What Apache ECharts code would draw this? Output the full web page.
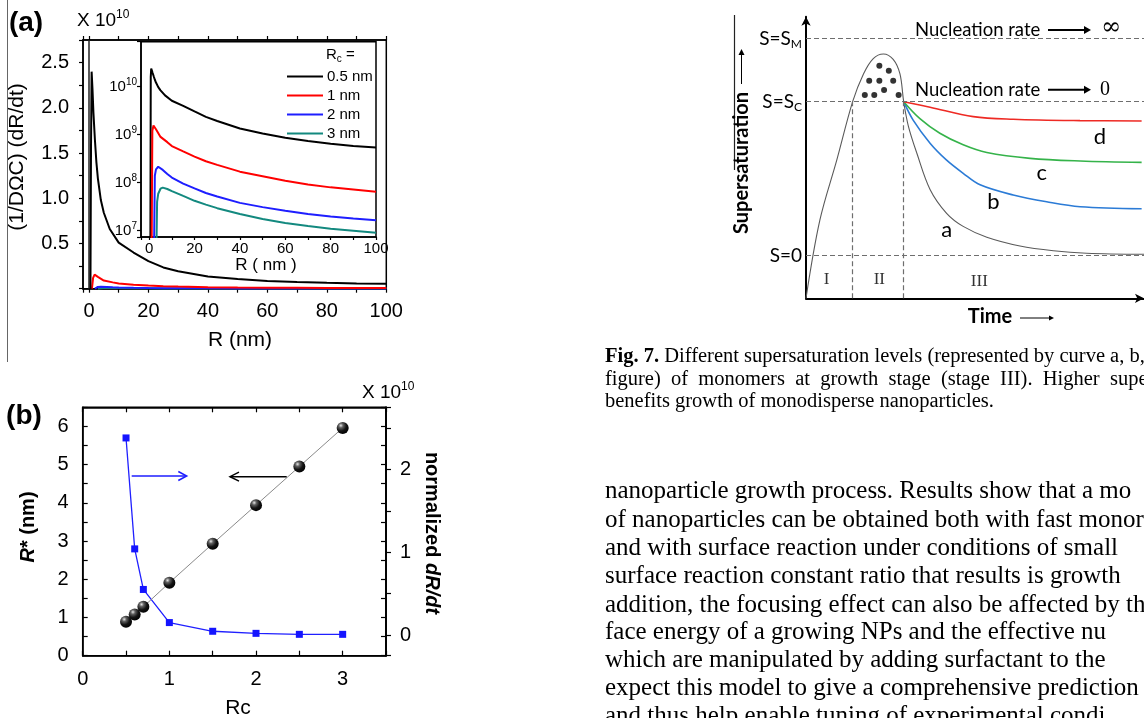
<!DOCTYPE html>
<html>
<head>
<meta charset="utf-8">
<script src="https://cdn.jsdelivr.net/npm/echarts@6/dist/echarts.min.js"></script>
<style>
  html, body { margin: 0; padding: 0; background: #fff; }
  #chart { width: 1144px; height: 718px; }
</style>
</head>
<body>
<div id="chart"></div>
<script>
// ---- panel (a): growth rate vs radius, one curve per Rc ----
const rcNames = ['0.5 nm', '1 nm', '2 nm', '3 nm']
const rcColors = ['#000000', '#ff0000', '#1e1eff', '#13897f']

const rBlack = [0.5, 0.7, 0.9, 1.2, 1.5, 2, 2.5, 3, 4, 5, 7, 10, 15, 20, 25, 30, 40, 50, 60, 70, 80, 90, 100]
const vBlack = [1e6, 1.6e10, 2.4e10, 2.2e10, 1.95e10, 1.65e10, 1.4e10, 1.22e10, 9.8e9, 8.4e9, 6.6e9, 5.1e9, 4.0e9, 3.05e9, 2.35e9, 1.93e9, 1.35e9, 1.06e9, 8.6e8, 7.4e8, 6.5e8, 5.8e8, 5.4e8]

const rRed = [1, 1.4, 1.9, 3, 5, 8, 10, 15, 20, 25, 30, 40, 50, 60, 70, 80, 90, 100]
const vRed = [1e6, 1.2e9, 1.55e9, 1.3e9, 9.0e8, 7.0e8, 5.8e8, 4.5e8, 3.5e8, 2.8e8, 2.35e8, 1.7e8, 1.37e8, 1.1e8, 9.2e7, 8.0e7, 7.2e7, 6.5e7]

const rBlue = [2, 2.5, 3, 4, 6, 8, 10, 15, 20, 25, 30, 40, 50, 60, 70, 80, 90, 100]
const vBlue = [1e6, 1.4e8, 1.9e8, 2.15e8, 1.85e8, 1.52e8, 1.28e8, 9.6e7, 7.6e7, 6.1e7, 5.15e7, 3.8e7, 3.1e7, 2.6e7, 2.22e7, 1.98e7, 1.8e7, 1.66e7]

const rTeal = [3, 3.5, 4, 5, 6, 8, 10, 15, 20, 25, 30, 40, 50, 60, 70, 80, 90, 100]
const vTeal = [1e6, 4.0e7, 5.9e7, 7.5e7, 7.9e7, 7.4e7, 6.7e7, 5.3e7, 4.2e7, 3.5e7, 2.95e7, 2.24e7, 1.75e7, 1.45e7, 1.25e7, 1.1e7, 1.0e7, 9.1e6]

// ---- panel (b): R* and normalized dR/dt vs Rc ----
const rcB = [0.5, 0.6, 0.7, 1, 1.5, 2, 2.5, 3]
const rStar = [0.89, 1.08, 1.28, 1.91, 2.93, 3.94, 4.95, 5.96]
const normRate = [2.38, 1.04, 0.55, 0.15, 0.045, 0.02, 0.008, 0.008]   // x 10^10

// ---- Fig. 7 schematic: supersaturation vs time ----
const levels = [0, 1, 1.405]          // S=0, S=Sc, S=Sm
const stageEdges = [1.38, 2.89]
const tA = [0, 0.41, 0.91, 1.38, 1.70, 1.99, 2.29, 2.58, 2.78, 2.89, 3.03, 3.28, 3.67, 4.16, 4.65, 5.35, 6.33, 7.32, 8.3, 10]
const sA = [-0.277, 0.23, 0.62, 1.0, 1.18, 1.28, 1.31, 1.275, 1.18, 1.0, 0.84, 0.665, 0.43, 0.275, 0.19, 0.12, 0.063, 0.032, 0.016, 0.009]
const tB = [2.89, 3.17, 3.67, 4.16, 4.65, 5.15, 6.13, 7.12, 8.11, 9.93]
const sB = [1.0, 0.88, 0.73, 0.62, 0.535, 0.46, 0.394, 0.35, 0.318, 0.305]
const tC = [2.89, 3.37, 3.96, 4.65, 5.35, 6.63, 8.11, 9.93]
const sC = [1.0, 0.89, 0.795, 0.72, 0.67, 0.632, 0.615, 0.606]
const tD = [2.89, 3.67, 4.95, 6.13, 8.11, 9.93]
const sD = [1.0, 0.964, 0.903, 0.886, 0.877, 0.875]
const dotT = [2.17, 2.45, 1.87, 2.17, 2.58, 2.31, 1.74, 2.02, 2.74]
const dotS = [1.234, 1.201, 1.136, 1.136, 1.136, 1.076, 1.044, 1.044, 1.044]

const captionLines = [
  '{b|Fig. 7.} Different supersaturation levels (represented by curve a, b, c',
  'figure)  of  monomers  at  growth  stage  (stage  III).  Higher  super',
  'benefits growth of monodisperse nanoparticles.'
]
const bodyLines = [
  'nanoparticle growth process. Results show that a mo',
  'of nanoparticles can be obtained both with fast monor',
  'and with surface reaction under conditions of small',
  'surface reaction constant ratio that results is growth',
  'addition, the focusing effect can also be affected by the',
  'face energy of a growing NPs and the effective nu',
  'which are manipulated by adding surfactant to the',
  'expect this model to give a comprehensive prediction',
  'and thus help enable tuning of experimental condi'
]

const LS = '"Liberation Sans", Arial, sans-serif'
const SERIF = '"Liberation Serif", "Times New Roman", serif'
const LATO = 'Lato, "Open Sans", sans-serif'

const pairs = (xs, ys) => xs.map((x, i) => [x, ys[i]])
const curves = [
  { r: rBlack, v: vBlack },
  { r: rRed, v: vRed },
  { r: rBlue, v: vBlue },
  { r: rTeal, v: vTeal }
]

const label = (x, y, text, fontSize, opt = {}) => {
  const style = {
    text, x: 0, y: 0,
    fontSize, fontFamily: opt.family || LS,
    fontWeight: opt.weight || 'normal',
    fontStyle: opt.italic ? 'italic' : 'normal',
    fill: opt.color || '#000',
    align: opt.align || 'center', verticalAlign: 'middle',
    textAlign: opt.align || 'center', textVerticalAlign: 'middle'
  }
  if (opt.rich) style.rich = opt.rich
  if (opt.lineHeight) style.lineHeight = opt.lineHeight
  return { type: 'text', x, y, rotation: opt.rotation || 0, z: 50, silent: true, style }
}
const seg = (x1, y1, x2, y2, color, w) => ({
  type: 'line', z: 50, silent: true,
  shape: { x1, y1, x2, y2 },
  style: { stroke: color, lineWidth: w }
})
const head = (pts, color) => ({
  type: 'polygon', z: 50, silent: true,
  shape: { points: pts }, style: { fill: color }
})
const chevron = (pts, color) => ({
  type: 'polyline', z: 50, silent: true,
  shape: { points: pts }, style: { stroke: color, lineWidth: 1.5, fill: null }
})

const sup = (size, family) => ({ fontSize: size, fontFamily: family || LS, verticalAlign: 'top', fill: '#000', color: '#000' })
const sub = (size, family) => ({ fontSize: size, fontFamily: family || LS, verticalAlign: 'bottom', fill: '#000', color: '#000' })

const graphics = [
  seg(7.5, 0, 7.5, 362, '#666', 1),
  seg(734.5, 15, 734.5, 170, '#222', 1.2),

  // panel (a)
  label(26, 23, '(a)', 28, { weight: 'bold' }),
  label(77, 21, 'X 10{s|10}', 19, { align: 'left', lineHeight: 24, rich: { s: sup(12) } }),
  label(17, 157, '(1/DΩC) (dR/dt)', 21, { rotation: Math.PI / 2 }),
  label(240, 340, 'R (nm)', 21),
  label(326, 55, 'R{s|c} =', 15, { align: 'left', lineHeight: 18, rich: { s: sub(10) } }),
  label(266, 265, 'R ( nm )', 17),

  // panel (b)
  label(24, 416, '(b)', 28, { weight: 'bold' }),
  label(362, 393, 'X 10{s|10}', 19, { align: 'left', lineHeight: 24, rich: { s: sup(12) } }),
  label(28, 527, '{i|R}* (nm)', 20, { weight: 'bold', rotation: Math.PI / 2,
    rich: { i: { fontSize: 20, fontFamily: LS, fontWeight: 'bold', fontStyle: 'italic', fill: '#000' } } }),
  label(432, 533, 'normalized {i|dR/dt}', 20, { weight: 'bold', rotation: -Math.PI / 2,
    rich: { i: { fontSize: 20, fontFamily: LS, fontWeight: 'bold', fontStyle: 'italic', fill: '#000' } } }),
  label(238, 708, 'Rc', 21),
  seg(131.7, 476, 186, 476, '#1e1eff', 1.5),
  chevron([[178.3, 471.5], [186.7, 476], [178.3, 480.5]], '#1e1eff'),
  seg(286.7, 476.7, 230.5, 476.7, '#000', 1.5),
  chevron([[239, 472.2], [230, 476.7], [239, 481.2]], '#000'),

  // Fig. 7 schematic
  label(802, 39.3, 'S=S{s|M}', 19, { family: LATO, align: 'right', lineHeight: 22, rich: { s: sub(12, LATO) } }),
  label(802, 101.7, 'S=S{s|C}', 19, { family: LATO, align: 'right', lineHeight: 22, rich: { s: sub(12, LATO) } }),
  label(802, 255.7, 'S=0', 19, { family: LATO, align: 'right' }),
  label(741.5, 163, 'Supersaturation', 20, { family: LATO, weight: 'bold', rotation: Math.PI / 2 }),
  seg(741.5, 84, 741.5, 54, '#000', 1),
  head([[738.5, 55], [741.5, 49], [744.5, 55]], '#000'),
  label(915, 30, 'Nucleation rate', 18.5, { family: LATO, align: 'left' }),
  seg(1048, 30, 1085, 30, '#000', 2),
  head([[1084, 26], [1091, 30], [1084, 34]], '#000'),
  label(1111, 28, '∞', 24, { family: '"DejaVu Serif", serif' }),
  label(915, 89.7, 'Nucleation rate', 18.5, { family: LATO, align: 'left' }),
  seg(1048, 89.7, 1085, 89.7, '#000', 2),
  head([[1084, 85.7], [1091, 89.7], [1084, 93.7]], '#000'),
  label(1105, 89.7, '0', 20, { family: SERIF }),
  label(826.7, 280, 'I', 17, { family: SERIF, color: '#333' }),
  label(879.3, 280, 'II', 17, { family: SERIF, color: '#333' }),
  label(979.3, 282, 'III', 17, { family: SERIF, color: '#333' }),
  label(990, 316.7, 'Time', 20, { family: LATO, weight: 'bold' }),
  seg(1020, 318, 1050, 318, '#000', 1),
  head([[1049, 315.5], [1054, 318], [1049, 320.5]], '#000'),
  label(946.7, 230, 'a', 22, { family: LATO }),
  label(993.3, 201.7, 'b', 22, { family: LATO }),
  label(1041.7, 173.3, 'c', 22, { family: LATO }),
  label(1100, 136.7, 'd', 22, { family: LATO })
]

const capY = [356.7, 379.3, 401.7]
captionLines.forEach((t, i) => {
  graphics.push(label(605, capY[i], t, 20.5, { family: SERIF, align: 'left', lineHeight: 24,
    rich: { b: { fontSize: 20.5, fontFamily: SERIF, fontWeight: 'bold', fill: '#000' } } }))
})
const bodyY = [491.7, 520, 548.3, 576.7, 605, 632.7, 660.5, 688.3, 716]
bodyLines.forEach((t, i) => {
  graphics.push(label(605, bodyY[i], t, 25, { family: SERIF, align: 'left' }))
})

const tickStyle = { color: '#000', width: 1.2 }
const lineStyleAx = { color: '#000', width: 1.5 }
const every = (step) => (v) => (Math.abs(v / step - Math.round(v / step)) < 1e-6 ? String(Math.round(v * 100) / 100) : '')

const chart = echarts.init(document.getElementById('chart'))

chart.setOption({
  animation: false,
  backgroundColor: '#fff',
  grid: [
    { left: 83, top: 40, width: 303.3, height: 248.7, show: true, borderColor: '#000', borderWidth: 1.5, backgroundColor: 'transparent' },
    { left: 141, top: 41.7, width: 235, height: 195.3, show: true, borderColor: '#000', borderWidth: 1.5, backgroundColor: '#fff' },
    { left: 82.7, top: 407.3, width: 303.3, height: 248.4, show: true, borderColor: '#000', borderWidth: 1.5, backgroundColor: 'transparent' },
    { left: 806, top: 16.7, width: 338, height: 281.6, show: false }
  ],
  legend: {
    data: rcNames,
    left: 287, top: 67, padding: 0,
    orient: 'vertical', icon: 'rect',
    itemWidth: 36, itemHeight: 2, itemGap: 0,
    selectedMode: false,
    textStyle: { fontSize: 15, fontFamily: LS, color: '#000', lineHeight: 19, padding: [0, 0, 0, -1] }
  },
  xAxis: [
    { gridIndex: 0, type: 'value', min: -2, max: 100, splitNumber: 10, position: 'bottom',
      axisLine: { onZero: false, lineStyle: lineStyleAx },
      axisTick: { inside: false, length: 4, lineStyle: tickStyle },
      axisLabel: { margin: 13, fontSize: 20, fontFamily: LS, color: '#000', formatter: v => (v % 20 === 0 ? String(v) : '') },
      splitLine: { show: false } },
    { gridIndex: 0, type: 'value', min: -2, max: 100, splitNumber: 10, position: 'top',
      axisLine: { onZero: false, lineStyle: lineStyleAx },
      axisTick: { inside: false, length: 4, lineStyle: tickStyle },
      axisLabel: { show: false }, splitLine: { show: false } },
    { gridIndex: 1, type: 'value', min: -3.6, max: 100, splitNumber: 10, position: 'bottom',
      axisLine: { onZero: false, lineStyle: lineStyleAx },
      axisTick: { inside: false, length: 3, lineStyle: tickStyle },
      axisLabel: { margin: 4, fontSize: 15, fontFamily: LS, color: '#000', formatter: v => (v % 20 === 0 ? String(v) : '') },
      splitLine: { show: false } },
    { gridIndex: 2, type: 'value', min: 0, max: 3.5, interval: 0.5, position: 'bottom',
      axisLine: { onZero: false, lineStyle: lineStyleAx },
      axisTick: { inside: true, length: 5, lineStyle: tickStyle },
      axisLabel: { margin: 14, fontSize: 20, fontFamily: LS, color: '#000', formatter: every(1) },
      splitLine: { show: false } },
    { gridIndex: 2, type: 'value', min: 0, max: 3.5, interval: 0.5, position: 'top',
      axisLine: { onZero: false, lineStyle: lineStyleAx },
      axisTick: { inside: true, length: 5, lineStyle: tickStyle },
      axisLabel: { show: false }, splitLine: { show: false } },
    { gridIndex: 3, type: 'value', min: 0, max: 10, position: 'bottom',
      axisLine: { onZero: false, symbol: ['none', 'arrow'], symbolSize: [7, 9], lineStyle: { color: '#000', width: 2 } },
      axisTick: { show: false }, axisLabel: { show: false }, splitLine: { show: false } }
  ],
  yAxis: [
    { gridIndex: 0, type: 'value', min: 0, max: 2.75e10, interval: 2.5e9, position: 'left',
      axisLine: { onZero: false, lineStyle: lineStyleAx },
      axisTick: { inside: false, length: 4, lineStyle: tickStyle },
      axisLabel: { margin: 14, fontSize: 20, fontFamily: LS, color: '#000',
        formatter: v => { const u = v / 1e10; return u > 0 && Math.abs(u * 2 - Math.round(u * 2)) < 1e-6 ? u.toFixed(1) : '' } },
      splitLine: { show: false } },
    { gridIndex: 1, type: 'log', logBase: 10, min: 7.4e6, max: 8.66e10, position: 'left',
      axisLine: { onZero: false, lineStyle: lineStyleAx },
      axisTick: { inside: false, length: 4, lineStyle: tickStyle },
      axisLabel: { margin: 4, fontSize: 15, fontFamily: LS, color: '#000', lineHeight: 18,
        rich: { s: { fontSize: 10, fontFamily: LS, color: '#000', verticalAlign: 'top' } },
        formatter: v => { const e = Math.log10(v); const r = Math.round(e); return Math.abs(e - r) < 1e-6 ? '10{s|' + r + '}' : '' } },
      splitLine: { show: false } },
    { gridIndex: 2, type: 'value', min: 0, max: 6.5, interval: 0.5, position: 'left',
      axisLine: { onZero: false, lineStyle: lineStyleAx },
      axisTick: { inside: true, length: 5, lineStyle: tickStyle },
      axisLabel: { margin: 14, fontSize: 20, fontFamily: LS, color: '#000', formatter: every(1) },
      splitLine: { show: false } },
    { gridIndex: 2, type: 'value', min: -0.25, max: 2.75, splitNumber: 6, position: 'right',
      axisLine: { onZero: false, lineStyle: lineStyleAx },
      axisTick: { inside: false, length: 5, lineStyle: tickStyle },
      axisLabel: { margin: 14, fontSize: 20, fontFamily: LS, color: '#000', formatter: every(1) },
      splitLine: { show: false } },
    { gridIndex: 2, type: 'value', min: 0, max: 6.5, interval: 0.5, position: 'right',
      axisLine: { onZero: false, lineStyle: lineStyleAx },
      axisTick: { inside: true, length: 5, lineStyle: tickStyle },
      axisLabel: { show: false }, splitLine: { show: false } },
    { gridIndex: 3, type: 'value', min: -0.277, max: 1.552, position: 'left',
      axisLine: { onZero: false, symbol: ['none', 'arrow'], symbolSize: [7, 9], lineStyle: { color: '#000', width: 2 } },
      axisTick: { show: false }, axisLabel: { show: false }, splitLine: { show: false } }
  ],
  series: [
    // (a) main, linear
    ...curves.map((c, i) => ({
      type: 'line', name: rcNames[i], xAxisIndex: 0, yAxisIndex: 0,
      data: pairs(c.r, c.v), showSymbol: false, clip: true, z: 3 + (3 - i),
      lineStyle: { color: rcColors[i], width: 2 }, itemStyle: { color: rcColors[i] },
      markLine: i === 0 ? {
        silent: true, symbol: 'none', label: { show: false },
        lineStyle: { color: '#222', width: 1.5, type: 'solid' },
        data: [{ xAxis: 0 }]
      } : undefined
    })),
    // (a) inset, log
    ...curves.map((c, i) => ({
      type: 'line', name: rcNames[i], xAxisIndex: 2, yAxisIndex: 1,
      data: pairs(c.r, c.v), showSymbol: false, clip: true, z: 3,
      lineStyle: { color: rcColors[i], width: 2 }, itemStyle: { color: rcColors[i] }
    })),
    // (b)
    {
      type: 'line', name: 'R*', xAxisIndex: 3, yAxisIndex: 2,
      data: pairs(rcB, rStar), symbol: 'circle', symbolSize: 12, z: 4,
      lineStyle: { color: '#8a8a8a', width: 1 },
      itemStyle: {
        color: new echarts.graphic.RadialGradient(0.35, 0.3, 0.75, [
          { offset: 0, color: '#e8e8e8' },
          { offset: 0.25, color: '#606060' },
          { offset: 0.6, color: '#141414' },
          { offset: 1, color: '#000' }
        ])
      }
    },
    {
      type: 'line', name: 'normalized dR/dt', xAxisIndex: 3, yAxisIndex: 3,
      data: pairs(rcB, normRate), symbol: 'rect', symbolSize: 7, z: 3,
      lineStyle: { color: '#2020ff', width: 1.3 }, itemStyle: { color: '#1414ff' }
    },
    // Fig. 7 schematic
    {
      type: 'line', name: 'a', xAxisIndex: 5, yAxisIndex: 5,
      data: pairs(tA, sA), smooth: 0.35, showSymbol: false, z: 3,
      lineStyle: { color: '#5a5a5a', width: 1.1 },
      markLine: {
        silent: true, symbol: 'none', label: { show: false },
        lineStyle: { color: '#6e6e6e', width: 1.2, type: [5, 3] },
        data: [
          ...levels.map(s => ({ yAxis: s })),
          ...stageEdges.map(t => [{ coord: [t, -0.277] }, { coord: [t, levels[1]] }])
        ]
      }
    },
    { type: 'line', name: 'b', xAxisIndex: 5, yAxisIndex: 5, data: pairs(tB, sB), smooth: 0.35, showSymbol: false, z: 4,
      lineStyle: { color: '#2b7bd6', width: 1.6 } },
    { type: 'line', name: 'c', xAxisIndex: 5, yAxisIndex: 5, data: pairs(tC, sC), smooth: 0.35, showSymbol: false, z: 4,
      lineStyle: { color: '#35b34a', width: 1.6 } },
    { type: 'line', name: 'd', xAxisIndex: 5, yAxisIndex: 5, data: pairs(tD, sD), smooth: 0.35, showSymbol: false, z: 4,
      lineStyle: { color: '#ee2a24', width: 1.6 } },
    { type: 'scatter', name: 'nuclei', xAxisIndex: 5, yAxisIndex: 5, data: pairs(dotT, dotS),
      symbolSize: 6, itemStyle: { color: '#000' }, z: 5 }
  ],
  graphic: graphics
})

window.addEventListener('resize', () => chart.resize())
</script>
</body>
</html>
